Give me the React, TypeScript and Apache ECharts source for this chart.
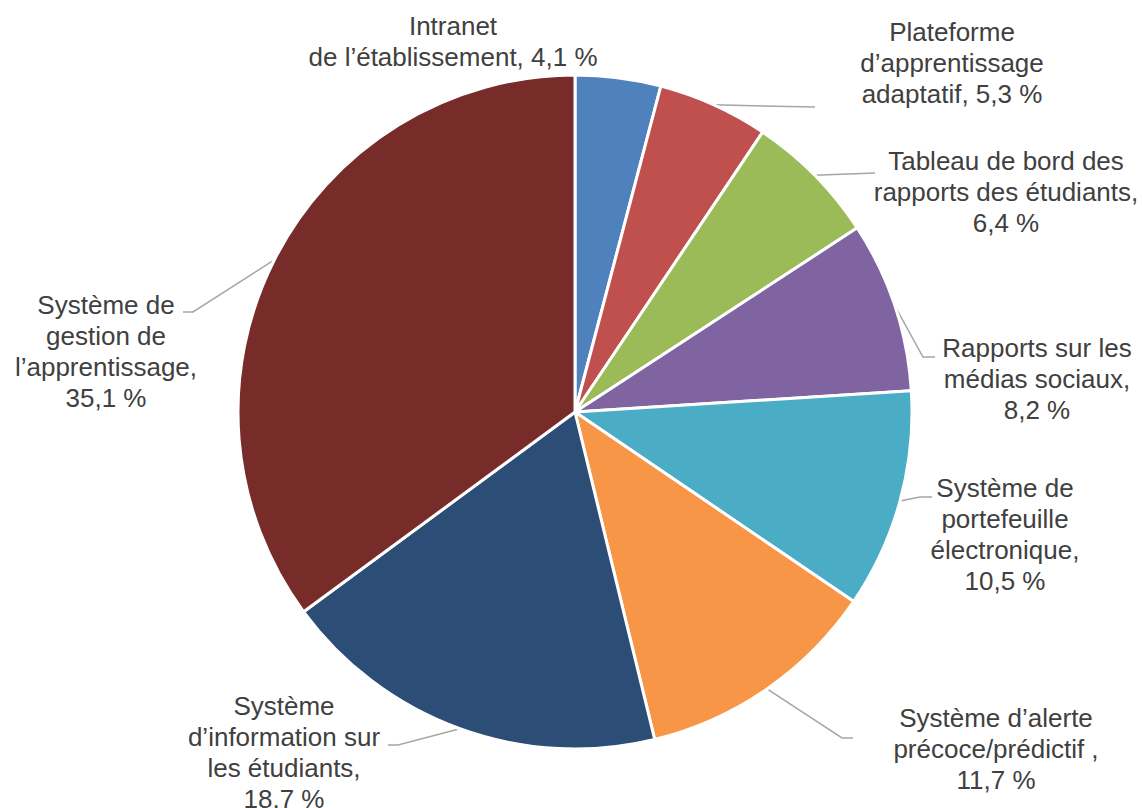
import React, { useEffect, useRef } from "react";
import * as echarts from "echarts";

const categories = [
  "Intranet de l’établissement",
  "Plateforme d’apprentissage adaptatif",
  "Tableau de bord des rapports des étudiants",
  "Rapports sur les médias sociaux",
  "Système de portefeuille électronique",
  "Système d’alerte précoce/prédictif",
  "Système d’information sur les étudiants",
  "Système de gestion de l’apprentissage",
];

const values = [4.1, 5.3, 6.4, 8.2, 10.5, 11.7, 18.7, 35.1];

const labelNames = [
  "Intranet\nde l’établissement,",
  "Plateforme\nd’apprentissage\nadaptatif,",
  "Tableau de bord des\nrapports des étudiants,",
  "Rapports sur les\nmédias sociaux,",
  "Système de\nportefeuille\nélectronique,",
  "Système d’alerte\nprécoce/prédictif ,",
  "Système\nd’information sur\nles étudiants,",
  "Système de\ngestion de\nl’apprentissage,",
];

const labelSeparators = [" ", " ", "\n", "\n", "\n", "\n", "\n", "\n"];

const colors = [
  "#4F81BD",
  "#C0504D",
  "#9BBB59",
  "#8064A2",
  "#4BACC6",
  "#F79646",
  "#2C4D75",
  "#772C2A",
];

// label block centers
const labelPos: number[][] = [
  [453, 41],
  [952, 63],
  [1006, 192],
  [1037, 379],
  [1005, 534],
  [996, 749],
  [284, 752],
  [106, 351],
];

// leader line elbow and end (null = no line)
const lineElbow: (number[] | null)[] = [
  null,
  [815, 107],
  [875, 173],
  [923, 357],
  [920, 497],
  [842, 738],
  [398, 745],
  [193, 312],
];
const lineEnd: (number[] | null)[] = [
  null,
  [815, 107],
  [875, 173],
  [935, 357],
  [932, 497],
  [853, 738],
  [388, 745],
  [183, 312],
];

export default function App() {
  const ref = useRef<HTMLDivElement>(null);
  useEffect(() => {
    if (!ref.current) return;
    const chart = echarts.init(ref.current, null, { renderer: "svg" });
    const fmt = (v: number) => v.toFixed(1).replace(".", ",") + " %";
    chart.setOption({
      animation: false,
      backgroundColor: "#ffffff",
      series: [
        {
          type: "pie",
          center: [575, 412],
          radius: 337,
          startAngle: 90,
          clockwise: true,
          avoidLabelOverlap: false,
          itemStyle: { borderColor: "#ffffff", borderWidth: 3 },
          label: {
            show: true,
            position: "outside",
            fontFamily: "Liberation Sans, Arial, sans-serif",
            fontSize: 26,
            lineHeight: 31,
            color: "#404040",
            align: "center",
            formatter: (p: any) =>
              labelNames[p.dataIndex] + labelSeparators[p.dataIndex] + fmt(p.value),
          },
          labelLine: {
            show: true,
            lineStyle: { color: "#A6A6A6", width: 1.5 },
          },
          labelLayout: (p: any) => {
            const i = p.dataIndex;
            const res: any = {
              x: labelPos[i][0],
              y: labelPos[i][1],
              align: "center",
              verticalAlign: "middle",
            };
            if (lineElbow[i] && p.labelLinePoints && p.labelLinePoints[0]) {
              res.labelLinePoints = [p.labelLinePoints[0], lineElbow[i], lineEnd[i]];
            }
            return res;
          },
          data: categories.map((c, i) => ({
            name: c,
            value: values[i],
            itemStyle: { color: colors[i] },
            labelLine: { show: i !== 0 },
          })),
        },
      ],
    });
    return () => chart.dispose();
  }, []);
  return (
    <div
      ref={ref}
      style={{ position: "absolute", left: 0, top: 0, width: 1142, height: 808 }}
    />
  );
}
